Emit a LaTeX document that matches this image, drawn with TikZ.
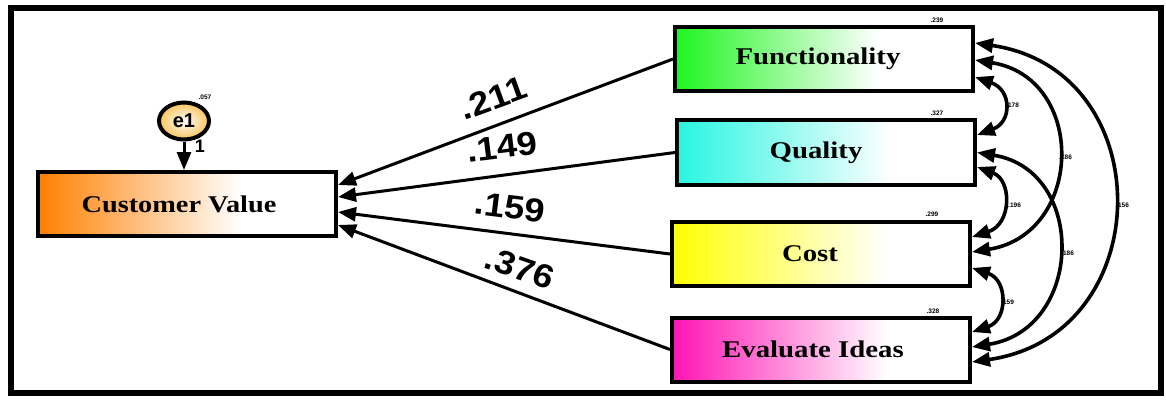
\documentclass[tikz,border=0pt]{standalone}
\usepackage{fontspec}
\usepackage{graphicx}
\setmainfont{Liberation Serif}
\newfontfamily\arial{Liberation Sans}
\usetikzlibrary{arrows.meta,shapes.geometric,backgrounds,calc}
\definecolor{cvorange}{RGB}{255,128,0}
\definecolor{funcgreen}{RGB}{30,245,30}
\definecolor{qualcyan}{RGB}{40,245,225}
\definecolor{costyellow}{RGB}{255,255,0}
\definecolor{evalmag}{RGB}{255,20,180}
\definecolor{eonefill}{RGB}{250,195,90}
\begin{document}
\begin{tikzpicture}[x=1pt,y=-1pt,
  box/.style={draw=black,line width=4pt,minimum width=298pt,minimum height=64pt,inner sep=0pt,
    font=\bfseries\fontsize{24}{28}\selectfont},
  conn/.style={line width=3pt,-{Triangle[length=18pt,width=14pt]}},
  cov/.style={line width=3.6pt,{Triangle[length=18pt,width=14pt]}-{Triangle[length=18pt,width=14pt]}},
  coef/.style={font=\arial\bfseries\fontsize{33}{35}\selectfont,inner sep=0pt},
  small/.style={font=\arial\bfseries\fontsize{6.5}{7}\selectfont,inner sep=0pt},
]
\useasboundingbox (0,0) rectangle (1166,401);
\draw[line width=6pt] (11,8) rectangle (1161,393);

% boxes
\node[box] (cv) at (187,204) {\scalebox{1.18}[1]{Customer Value}\kern16pt};
\node[box] (func) at (824,59) {\scalebox{1.2}[1]{Functionality}\kern12pt};
\node[box] (qual) at (826,152.5) {\scalebox{1.2}[1]{Quality}\kern20pt};
\node[box] (cost) at (821,254) {\scalebox{1.2}[1]{Cost}\kern22pt};
\node[box] (eval) at (821,349.5) {\scalebox{1.2}[1]{Evaluate Ideas}\kern16pt};

\begin{scope}[on background layer]
\fill[white] (0,0) rectangle (1166,401);
\shade[left color=cvorange,right color=white] ($(cv.north west)+(2,2)$) rectangle ($(cv.south west)!0.68!(cv.south east)+(0,-2)$);
\shade[left color=funcgreen,right color=white] ($(func.north west)+(2,2)$) rectangle ($(func.south west)!0.68!(func.south east)+(0,-2)$);
\shade[left color=qualcyan,right color=white] ($(qual.north west)+(2,2)$) rectangle ($(qual.south west)!0.72!(qual.south east)+(0,-2)$);
\shade[left color=costyellow,right color=white] ($(cost.north west)+(2,2)$) rectangle ($(cost.south west)!0.72!(cost.south east)+(0,-2)$);
\shade[left color=evalmag,right color=white] ($(eval.north west)+(2,2)$) rectangle ($(eval.south west)!0.72!(eval.south east)+(0,-2)$);
\end{scope}

% error term
\node[ellipse,draw,line width=4pt,minimum width=50pt,minimum height=37pt,inner sep=0pt,
  inner color=white,outer color=eonefill,font=\arial\bfseries\fontsize{20}{21}\selectfont]
  (e1) at (184,121) {e1};
\draw[conn] (e1.south) -- (e1.south |- cv.north);
\node[font=\arial\bfseries\fontsize{18}{19}\selectfont,inner sep=0pt] (one) at (200,146) {1};
\node[small] (r0) at (205,97) {.057};

% r-square labels
\node[small] (r1) at (937,20) {.239};
\node[small] (r2) at (937,113) {.327};
\node[small] (r3) at (932,214) {.299};
\node[small] (r4) at (933,311) {.328};

% regression paths
\draw[conn] (func.west) -- ([yshift=19pt]cv.east);
\draw[conn] (qual.west) -- ([yshift=7pt]cv.east);
\draw[conn] (cost.west) -- ([yshift=-8pt]cv.east);
\draw[conn] (eval.west) -- ([yshift=-21pt]cv.east);

\node[coef,rotate=20] (c1) at (493,98) {\scalebox{1.1}[1]{.211}};
\node[coef,rotate=7] (c2) at (502,147) {\scalebox{1.1}[1]{.149}};
\node[coef,rotate=-7] (c3) at (510,207) {\scalebox{1.1}[1]{.159}};
\node[coef,rotate=-19] (c4) at (520,268) {\scalebox{1.1}[1]{.376}};

% covariances
\draw[cov] ([yshift=-18pt]func.east) .. controls +(37,13) and +(35,-13) .. ([yshift=17.5pt]qual.east);
\draw[cov] ([yshift=-14.5pt]qual.east) .. controls +(35,13) and +(40,-13) .. ([yshift=17pt]cost.east);
\draw[cov] ([yshift=-14pt]cost.east) .. controls +(36,12) and +(36,-12) .. ([yshift=17.5pt]eval.east);
\draw[cov] ([yshift=-1pt]func.east) .. controls +(112,18) and +(112,-18) .. ([yshift=2pt]cost.east);
\draw[cov] (qual.east) .. controls +(110,18) and +(112,-18) .. ([yshift=2.5pt]eval.east);
\draw[cov] ([yshift=16pt]func.east) .. controls +(186,27) and +(187,-27) .. ([yshift=-12.5pt]eval.east);

\node[small,anchor=west] (k1) at (1006,105) {.178};
\node[small,anchor=west] (k2) at (1059,157) {.186};
\node[small,anchor=west] (k3) at (1008,205) {.196};
\node[small,anchor=west] (k4) at (1061,253) {.186};
\node[small,anchor=west] (k5) at (1116,205) {.156};
\node[small,anchor=west] (k6) at (1001,302) {.159};
\end{tikzpicture}
\end{document}
